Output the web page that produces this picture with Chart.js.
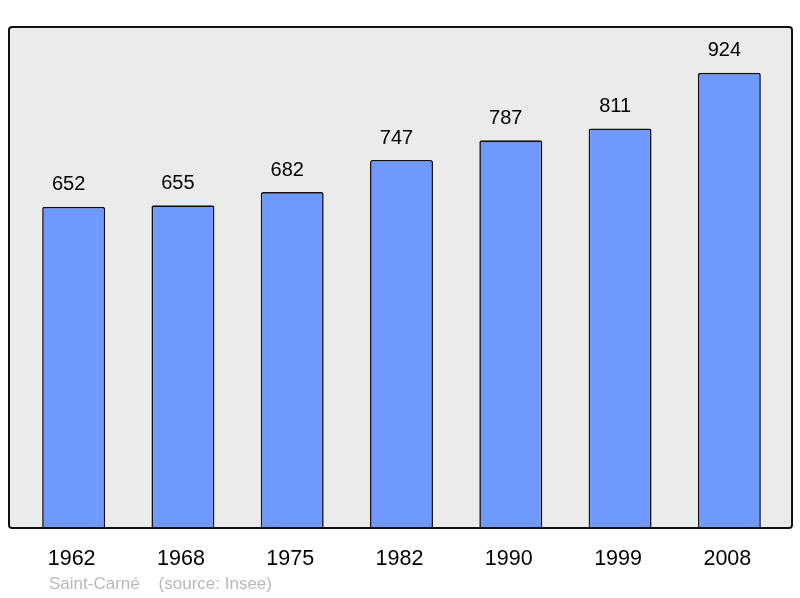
<!DOCTYPE html>
<html>
<head>
<meta charset="utf-8">
<script src="https://cdn.jsdelivr.net/npm/chart.js@4/dist/chart.umd.min.js"></script>
<style>
  html, body { margin: 0; padding: 0; background: #fff; }
  #wrap { width: 800px; height: 598px; }
</style>
</head>
<body>
<div id="wrap"><canvas id="popChart" width="800" height="598"></canvas></div>
<script>
// population data
const years = ['1962', '1968', '1975', '1982', '1990', '1999', '2008'];
const population = [652, 655, 682, 747, 787, 811, 924];
const yMax = 1017;
const footerText = 'Saint-Carné    (source: Insee)';

// grey frame behind the bars
const framePlugin = {
    id: 'frame',
    beforeDraw(chart) {
        const a = chart.chartArea;
        const ctx = chart.ctx;
        const x = a.left - 10, y = a.top, w = (a.right + 8) - x, h = a.bottom - a.top;
        ctx.save();
        ctx.beginPath();
        ctx.roundRect(x, y, w, h, 3);
        ctx.fillStyle = '#ebebeb';
        ctx.fill();
        ctx.restore();
    },
    afterDatasetsDraw(chart) {
        const a = chart.chartArea;
        const ctx = chart.ctx;
        const x = a.left - 10, y = a.top, w = (a.right + 8) - x, h = a.bottom - a.top;
        ctx.save();
        ctx.beginPath();
        ctx.roundRect(x, y, w, h, 3);
        ctx.lineWidth = 2;
        ctx.strokeStyle = '#111';
        ctx.stroke();

        // values above bars
        ctx.fillStyle = '#000';
        ctx.font = '20px "Liberation Sans", Arial, sans-serif';
        ctx.textAlign = 'center';
        ctx.textBaseline = 'middle';
        chart.getDatasetMeta(0).data.forEach((bar, i) => {
            ctx.fillText(String(population[i]), bar.x - 5, bar.y - 22);
        });

        // footer
        ctx.fillStyle = '#b8b8b8';
        ctx.font = '17px "Liberation Sans", Arial, sans-serif';
        ctx.textAlign = 'left';
        ctx.fillText(footerText, 49, 584);
        ctx.restore();
    }
};

new Chart(document.getElementById('popChart').getContext('2d'), {
    type: 'bar',
    data: {
        labels: years,
        datasets: [{
            data: population,
            backgroundColor: '#7099ff',
            borderColor: '#111',
            borderWidth: 1.6,
            borderRadius: 2,
            borderSkipped: 'bottom',
            barPercentage: 0.576,
            categoryPercentage: 1
        }]
    },
    options: {
        responsive: false,
        animation: false,
        layout: { padding: { left: 19, right: 16, top: 27, bottom: 0 } },
        plugins: {
            legend: { display: false },
            tooltip: { enabled: false }
        },
        scales: {
            x: {
                grid: { display: false, drawTicks: false },
                border: { display: false },
                ticks: {
                    color: '#000',
                    padding: 18,
                    labelOffset: -2,
                    font: { size: 21.5, family: '"Liberation Sans", Arial, sans-serif' }
                },
                afterFit(scale) { scale.height = 70; }
            },
            y: {
                display: false,
                min: 0,
                max: yMax
            }
        }
    },
    plugins: [framePlugin]
});
</script>
</body>
</html>
